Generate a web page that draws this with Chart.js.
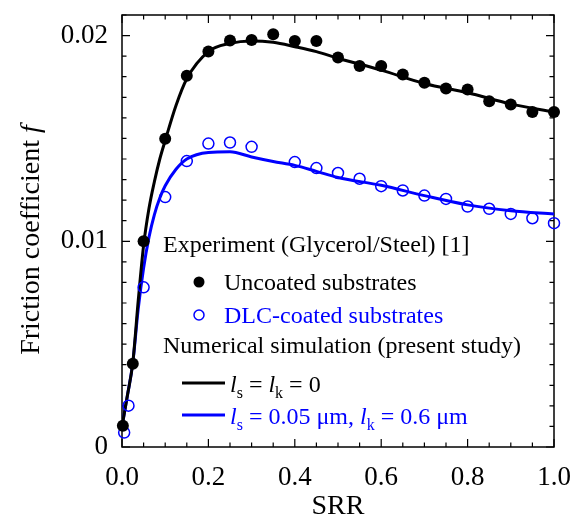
<!DOCTYPE html>
<html>
<head>
<meta charset="utf-8" />
<script src="https://cdn.jsdelivr.net/npm/chart.js@4.4.1/dist/chart.umd.min.js"></script>
<style>
  html, body { margin: 0; padding: 0; background: #fff; }
  #wrap { width: 573px; height: 521px; }
</style>
</head>
<body>
<div id="wrap"><canvas id="friction"></canvas></div>
<script>
// experiment (Glycerol/Steel) [1]
const expUncoatedX = [0.002, 0.025, 0.05, 0.1, 0.15, 0.2, 0.25, 0.3, 0.35, 0.4, 0.45, 0.5, 0.55, 0.6, 0.65, 0.7, 0.75, 0.8, 0.85, 0.9, 0.95, 1.0];
const expUncoated  = [0.00103, 0.00405, 0.0100, 0.01499, 0.01805, 0.01922, 0.01976, 0.01979, 0.02006, 0.01974, 0.01974, 0.01893, 0.01852, 0.01852, 0.01811, 0.01771, 0.01743, 0.01738, 0.01681, 0.01665, 0.01629, 0.01629];
const expDlcX = [0.005, 0.015, 0.05, 0.1, 0.15, 0.2, 0.25, 0.3, 0.4, 0.45, 0.5, 0.55, 0.6, 0.65, 0.7, 0.75, 0.8, 0.85, 0.9, 0.95, 1.0];
const expDlc  = [0.0007, 0.00201, 0.00776, 0.01215, 0.0139, 0.01475, 0.0148, 0.01459, 0.01385, 0.01356, 0.01332, 0.01304, 0.01268, 0.01247, 0.01222, 0.01206, 0.01169, 0.01158, 0.01133, 0.01112, 0.01088];

// numerical simulation (present study)
const simX      = [0, 0.0125, 0.025, 0.0375, 0.05, 0.0625, 0.075, 0.0875, 0.1, 0.125, 0.15, 0.2, 0.25, 0.3, 0.35, 0.4, 0.45, 0.5, 0.6, 0.7, 0.8, 0.9, 1.0];
const simNoSlip = [0.0010, 0.0025, 0.0041, 0.0071, 0.0098, 0.0116, 0.0129, 0.0140, 0.0149, 0.0166, 0.0179, 0.01922, 0.01962, 0.01974, 0.01967, 0.01946, 0.01922, 0.0189, 0.01832, 0.01767, 0.01722, 0.01668, 0.01628];
const simSlip   = [0.0010, 0.0025, 0.0041, 0.0067, 0.0087, 0.0102, 0.0113, 0.0121, 0.0127, 0.0135, 0.0140, 0.01432, 0.01435, 0.0141, 0.01388, 0.01369, 0.0134, 0.0131, 0.01272, 0.01222, 0.01177, 0.01149, 0.01133];

const xTicks = [0, 0.2, 0.4, 0.6, 0.8, 1.0];
const yTicks = [0, 0.01, 0.02];

const SERIF = "'Liberation Serif', 'Times New Roman', serif";
const BLUE = '#0000ff';

function pairs(xs, ys) {
  return xs.map((x, i) => ({ x: x, y: ys[i] }));
}
function onStep(v, step) {
  const r = v / step;
  return Math.abs(r - Math.round(r)) < 1e-6;
}

// frame + inward ticks on all four sides
const frameTicks = {
  id: 'frameTicks',
  beforeDatasetsDraw(chart) {
    const { ctx, chartArea: { left, right, top, bottom }, scales: { x, y } } = chart;
    ctx.save();
    ctx.strokeStyle = '#000';
    ctx.lineWidth = 1.5;
    ctx.strokeRect(left, top, right - left, bottom - top);
    ctx.lineWidth = 1.2;
    ctx.beginPath();
    x.ticks.forEach(t => {
      const px = x.getPixelForValue(t.value);
      const len = onStep(t.value, 0.2) ? 8 : 4.5;
      ctx.moveTo(px, bottom); ctx.lineTo(px, bottom - len);
      ctx.moveTo(px, top); ctx.lineTo(px, top + len);
    });
    y.ticks.forEach(t => {
      const py = y.getPixelForValue(t.value);
      const len = onStep(t.value, 0.01) ? 8 : 4.5;
      ctx.moveTo(left, py); ctx.lineTo(left + len, py);
      ctx.moveTo(right, py); ctx.lineTo(right - len, py);
    });
    ctx.stroke();
    ctx.restore();
  }
};

// draws runs of text: {t, it (italic), sub (subscript)}
function drawRuns(ctx, runs, x, y, size, color) {
  ctx.fillStyle = color;
  ctx.textBaseline = 'alphabetic';
  ctx.textAlign = 'left';
  runs.forEach(r => {
    const s = r.sub ? Math.round(size * 0.68) : size;
    ctx.font = (r.it ? 'italic ' : '') + s + 'px ' + SERIF;
    ctx.fillText(r.t, x, r.sub ? y + size * 0.25 : y);
    x += ctx.measureText(r.t).width;
  });
}

const legendBox = {
  id: 'legendBox',
  afterDatasetsDraw(chart) {
    const { ctx, chartArea: { left } } = chart;
    const fs = 24;
    ctx.save();
    drawRuns(ctx, [{ t: 'Experiment (Glycerol/Steel) [1]' }], left + 41, 252, fs, '#000');

    ctx.fillStyle = '#000';
    ctx.beginPath(); ctx.arc(left + 77, 282, 5.5, 0, Math.PI * 2); ctx.fill();
    drawRuns(ctx, [{ t: 'Uncoated substrates' }], left + 102, 290, fs, '#000');

    ctx.strokeStyle = BLUE; ctx.lineWidth = 1.5;
    ctx.beginPath(); ctx.arc(left + 77, 315, 5, 0, Math.PI * 2); ctx.stroke();
    drawRuns(ctx, [{ t: 'DLC-coated substrates' }], left + 102, 323, fs, BLUE);

    drawRuns(ctx, [{ t: 'Numerical simulation (present study)' }], left + 41, 353, fs, '#000');

    ctx.lineWidth = 3;
    ctx.strokeStyle = '#000';
    ctx.beginPath(); ctx.moveTo(left + 60, 383); ctx.lineTo(left + 103, 383); ctx.stroke();
    drawRuns(ctx, [{ t: 'l', it: true }, { t: 's', sub: true }, { t: ' = ' }, { t: 'l', it: true }, { t: 'k', sub: true }, { t: ' = 0' }],
      left + 108, 392, fs, '#000');

    ctx.strokeStyle = BLUE;
    ctx.beginPath(); ctx.moveTo(left + 60, 415); ctx.lineTo(left + 103, 415); ctx.stroke();
    drawRuns(ctx, [{ t: 'l', it: true }, { t: 's', sub: true }, { t: ' = 0.05 \u03bcm, ' }, { t: 'l', it: true }, { t: 'k', sub: true }, { t: ' = 0.6 \u03bcm' }],
      left + 108, 424, fs, BLUE);

    // y axis title with italic f
    ctx.translate(39, 240);
    ctx.rotate(-Math.PI / 2);
    ctx.font = '28px ' + SERIF;
    const a = 'Friction coefficient ';
    const wa = ctx.measureText(a).width;
    ctx.font = 'italic 28px ' + SERIF;
    const wb = ctx.measureText('f').width;
    let sx = -(wa + wb) / 2;
    drawRuns(ctx, [{ t: a }, { t: 'f', it: true }], sx, 0, 28, '#000');
    ctx.restore();
  }
};

new Chart(document.getElementById('friction'), {
  type: 'scatter',
  data: {
    datasets: [
      {
        label: 'Uncoated substrates',
        data: pairs(expUncoatedX, expUncoated),
        backgroundColor: '#000',
        borderColor: '#000',
        pointRadius: 6,
        pointBorderWidth: 0,
        clip: false,
        order: 0
      },
      {
        label: 'DLC-coated substrates',
        data: pairs(expDlcX, expDlc),
        backgroundColor: 'rgba(0,0,0,0)',
        borderColor: BLUE,
        pointRadius: 5.5,
        pointBorderWidth: 1.5,
        clip: false,
        order: 0
      },
      {
        label: 'ls = lk = 0',
        data: pairs(simX, simNoSlip),
        showLine: true,
        borderColor: '#000',
        borderWidth: 3,
        pointRadius: 0,
        cubicInterpolationMode: 'monotone',
        order: 1
      },
      {
        label: 'ls = 0.05 um, lk = 0.6 um',
        data: pairs(simX, simSlip),
        showLine: true,
        borderColor: BLUE,
        borderWidth: 3,
        pointRadius: 0,
        cubicInterpolationMode: 'monotone',
        order: 1
      }
    ]
  },
  options: {
    responsive: true,
    maintainAspectRatio: false,
    animation: false,
    devicePixelRatio: 1,
    layout: { padding: { left: 0, right: 19, top: 15, bottom: 0 } },
    plugins: { legend: { display: false }, tooltip: { enabled: false } },
    scales: {
      x: {
        type: 'linear',
        min: 0,
        max: 1,
        grid: { display: false, drawTicks: false },
        border: { display: false },
        ticks: {
          stepSize: 0.05,
          autoSkip: false,
          maxRotation: 0,
          padding: 15,
          color: '#000',
          font: { family: SERIF, size: 27 },
          callback: v => xTicks.some(t => Math.abs(t - v) < 1e-6) ? v.toFixed(1) : ''
        },
        title: {
          display: true,
          text: 'SRR',
          color: '#000',
          font: { family: SERIF, size: 28, lineHeight: 1 },
          padding: { top: 0, bottom: 0 }
        },
        afterFit: s => { s.height = 74; s.paddingLeft = 0; s.paddingRight = 0; }
      },
      y: {
        min: 0,
        max: 0.021,
        grid: { display: false, drawTicks: false },
        border: { display: false },
        ticks: {
          stepSize: 0.001,
          autoSkip: false,
          padding: 14,
          color: '#000',
          font: { family: SERIF, size: 27 },
          callback: v => {
            const hit = yTicks.find(t => Math.abs(t - v) < 1e-7);
            if (hit === undefined) return '';
            return hit === 0 ? '0' : hit.toFixed(2);
          }
        },
        afterFit: s => { s.width = 122; s.paddingTop = 0; s.paddingBottom = 0; }
      }
    }
  },
  plugins: [frameTicks, legendBox]
});
</script>
</body>
</html>
